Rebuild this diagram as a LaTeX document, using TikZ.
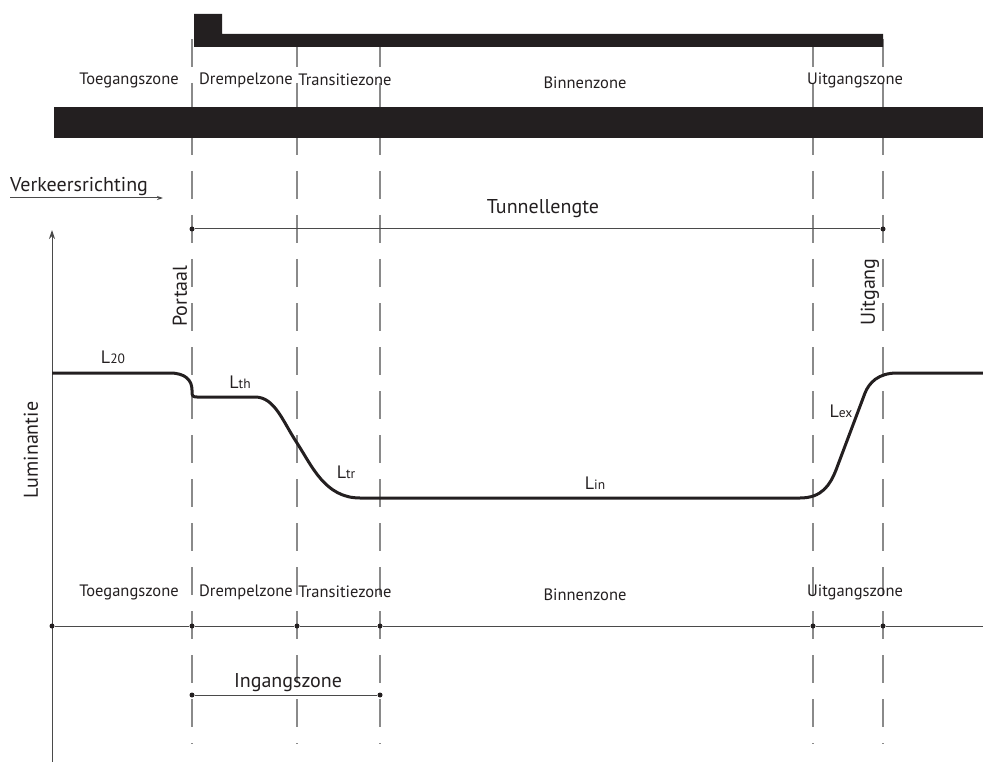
\documentclass[tikz,border=0pt]{standalone}
\usepackage{fontspec}
\setmainfont{PT Sans}
\usetikzlibrary{arrows.meta}
\definecolor{ink}{HTML}{231F20}
\definecolor{dashgrey}{HTML}{8A8A8A}
\definecolor{axisgrey}{HTML}{4A4A4A}
\begin{document}
\begin{tikzpicture}[x=1pt,y=-1pt,
  zoneline/.style={draw=dashgrey,line width=1.3pt,dash pattern=on 28pt off 16pt},
  axisline/.style={draw=axisgrey,line width=1pt},
  lumcurve/.style={draw=ink,line width=3pt,line join=round},
  zonelabel/.style={text=ink,font=\fontsize{16.5}{18}\selectfont,inner sep=0pt},
  biglabel/.style={text=ink,font=\fontsize{20}{22}\selectfont,inner sep=0pt},
  curvelabel/.style={text=ink,font=\fontsize{18}{20}\selectfont,inner sep=0pt}]
\tikzset{dotmark/.style={circle,fill=ink,inner sep=0pt,minimum size=5pt}}
\newcommand{\subsz}{\fontsize{13.5}{15}\selectfont}
\useasboundingbox (0,0) rectangle (983,762);
% zone boundaries
\foreach \n/\x in {p/192,d/297,t/380,b/813,u/883}{
  \coordinate (\n top) at (\x,39);
  \coordinate (\n bot) at (\x,744);
  \draw[zoneline] (\n top) -- (\n bot);
}
% tunnel roof
\fill[ink] (194,14) -- (222,14) -- (222,34) -- (883,34) -- (883,47) -- (194,47) -- cycle;
% road
\fill[ink] (54,107) rectangle (983,138);
% top zone labels
\node[zonelabel] (tToeg) at (129,80) {Toegangszone};
\node[zonelabel] (tDrem) at (246,80) {Drempelzone};
\node[zonelabel] (tTran) at (345,80) {Transitiezone};
\node[zonelabel] (tBinn) at (585,83) {Binnenzone};
\node[zonelabel] (tUitg) at (855,80) {Uitgangszone};
% traffic direction
\node[biglabel,anchor=base west] (verk) at (10,192) {Verkeersrichting};
\coordinate (vstart) at (10,198);
\coordinate (vend) at (163,198);
\draw[axisline,-{Stealth[length=6pt,width=4pt]}] (vstart) -- (vend);
% tunnel length
\node[dotmark] (tlA) at (192,229) {};
\node[dotmark] (tlB) at (883,229) {};
\draw[axisline] (tlA) -- (tlB);
\node[biglabel] (tunl) at (543,209) {Tunnellengte};
% y axis
\coordinate (yb) at (52,762);
\coordinate (yt) at (52,230);
\draw[axisline,-{Stealth[length=9pt,width=6pt]}] (yb) -- (yt);
\node[biglabel,rotate=90] (lum) at (31,450) {Luminantie};
% portal labels
\node[biglabel,rotate=90] (port) at (180,296) {Portaal};
\node[biglabel,rotate=90] (uitg) at (870,292) {Uitgang};
% luminance curve
\draw[lumcurve] (52,373) -- (170,373)
  .. controls (185,373) and (192,380) .. (192,390)
  -- (192,392) .. controls (192,396) and (193,397) .. (197,397)
  -- (255,397) .. controls (275,397) and (283,422) .. (297,443)
  .. controls (312,466) and (325,498) .. (360,498)
  -- (800,498) .. controls (822,498) and (830,485) .. (836,470)
  -- (865,393) .. controls (869,383) and (878,373) .. (897,373)
  -- (983,373);
\node[curvelabel] (l20) at (113,357) {L{\subsz 20}};
\node[curvelabel] (lth) at (240,382) {L{\subsz th}};
\node[curvelabel] (ltr) at (346,472) {L{\subsz tr}};
\node[curvelabel] (lin) at (595,483) {L{\subsz in}};
\node[curvelabel] (lex) at (841,411) {L{\subsz ex}};
% bottom zone labels
\node[zonelabel] (bToeg) at (129,592) {Toegangszone};
\node[zonelabel] (bDrem) at (246,592) {Drempelzone};
\node[zonelabel] (bTran) at (345,592) {Transitiezone};
\node[zonelabel] (bBinn) at (585,595) {Binnenzone};
\node[zonelabel] (bUitg) at (855,592) {Uitgangszone};
% bottom axis
\coordinate (axR) at (983,626);
\node[dotmark] (a0) at (52,626) {};
\node[dotmark] (a1) at (192,626) {};
\node[dotmark] (a2) at (297,626) {};
\node[dotmark] (a3) at (380,626) {};
\node[dotmark] (a4) at (813,626) {};
\node[dotmark] (a5) at (883,626) {};
\draw[axisline] (a0) -- (a1) -- (a2) -- (a3) -- (a4) -- (a5) -- (axR);
% entrance zone
\node[dotmark] (iA) at (192,695) {};
\node[dotmark] (iB) at (380,695) {};
\draw[axisline] (iA) -- (iB);
\node[biglabel] (ingz) at (288,683) {Ingangszone};
\end{tikzpicture}
\end{document}
